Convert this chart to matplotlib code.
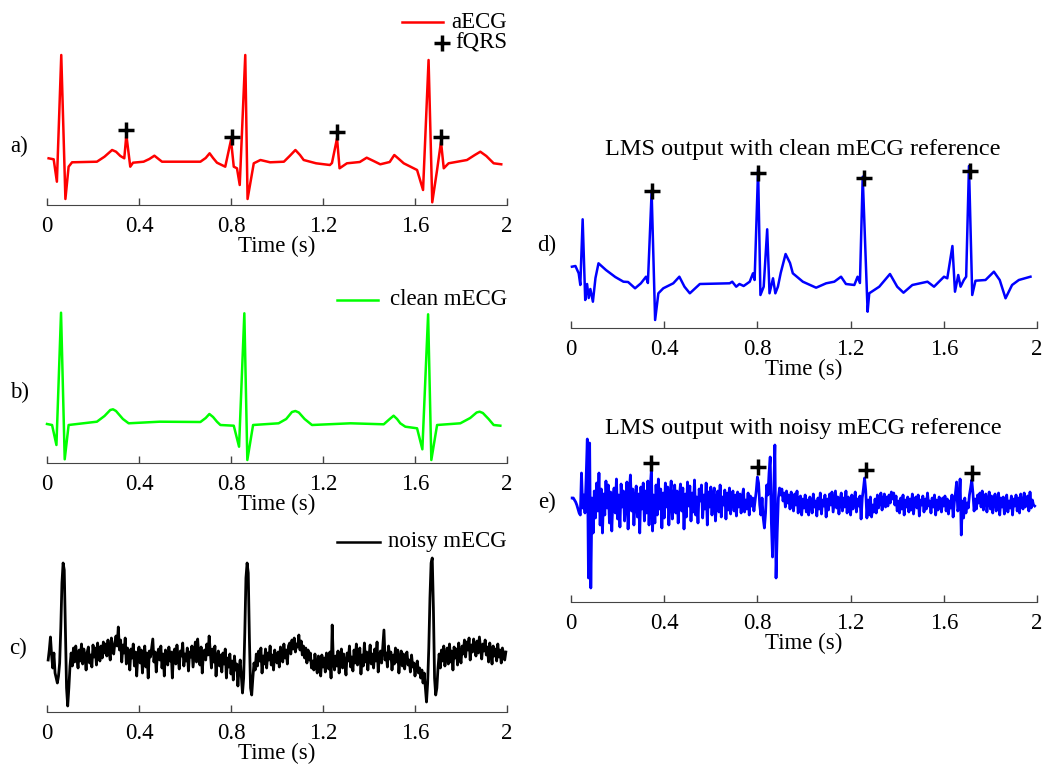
import numpy as np
import matplotlib.pyplot as plt
from matplotlib.lines import Line2D

plt.rcParams['font.family'] = ['Liberation Serif', 'DejaVu Serif']

# ---------------- data ----------------
# a) abdominal ECG (time s, amplitude a.u.)
aecg_t = [0.007, 0.029, 0.043, 0.062, 0.080, 0.094, 0.109, 0.217, 0.25, 0.283,
          0.30, 0.319, 0.336, 0.345, 0.362, 0.374, 0.42, 0.445, 0.467, 0.485,
          0.50, 0.667, 0.69, 0.707, 0.722, 0.739, 0.775, 0.80, 0.812, 0.826,
          0.838, 0.862, 0.872, 0.899, 0.928, 0.97, 1.03, 1.055, 1.08, 1.10,
          1.116, 1.17, 1.23, 1.239, 1.261, 1.272, 1.304, 1.36, 1.39, 1.42,
          1.449, 1.49, 1.51, 1.53, 1.551, 1.609, 1.635, 1.659, 1.675, 1.696,
          1.713, 1.725, 1.746, 1.826, 1.86, 1.884, 1.91, 1.942, 1.975]
aecg_v = [0.037, 0.027, -0.197, 1.07, -0.37, -0.047, -0.003, 0.003, 0.053, 0.12,
          0.103, 0.06, 0.037, 0.27, -0.047, -0.007, 0.003, 0.03, 0.063, 0.03,
          0.003, 0.003, 0.04, 0.087, 0.04, -0.007, -0.047, 0.22, -0.047, -0.063,
          -0.23, 1.07, -0.37, -0.013, 0.02, -0.003, 0.003, 0.06, 0.12, 0.07,
          0.02, -0.013, -0.03, -0.01, 0.237, -0.063, -0.013, 0.0, 0.043, 0.01,
          -0.023, 0.0, 0.07, 0.03, -0.013, -0.08, -0.28, 1.02, -0.403, -0.08,
          0.203, -0.063, -0.013, 0.02, 0.07, 0.103, 0.06, -0.013, -0.023]
fqrs_a_t = [0.343, 0.804, 1.261, 1.713]
fqrs_a_v = [0.32, 0.253, 0.297, 0.253]

# b) clean maternal ECG
mecg_t = [0.0, 0.022, 0.041, 0.061, 0.077, 0.094, 0.217, 0.25, 0.275, 0.287,
          0.30, 0.33, 0.355, 0.49, 0.667, 0.69, 0.706, 0.722, 0.739, 0.754,
          0.812, 0.835, 0.858, 0.871, 0.896, 1.007, 1.04, 1.065, 1.08, 1.095,
          1.12, 1.152, 1.32, 1.464, 1.49, 1.507, 1.522, 1.536, 1.558, 1.609,
          1.632, 1.657, 1.671, 1.696, 1.797, 1.84, 1.868, 1.881, 1.895, 1.92,
          1.942, 1.971]
mecg_v = [0.0, -0.01, -0.21, 1.113, -0.353, -0.01, 0.023, 0.08, 0.14, 0.147,
          0.13, 0.05, 0.007, 0.023, 0.02, 0.06, 0.10, 0.07, 0.023, -0.01,
          -0.017, -0.227, 1.107, -0.36, -0.01, 0.007, 0.05, 0.12, 0.13, 0.115,
          0.05, -0.01, 0.007, -0.003, 0.05, 0.083, 0.05, 0.007, -0.027, -0.043,
          -0.253, 1.097, -0.36, -0.01, 0.007, 0.06, 0.115, 0.123, 0.11, 0.05,
          -0.01, -0.017]

# c) noisy maternal ECG, sampled at 200 Hz, values in 0.01 a.u.
fs = 200
noisy_mecg = [
    -2, 8, 21, 3, -10, 5, -15, -20, -25, -18,
    -5, 30, 75, 95, 88, 30, -30, -48, -30, -8,
    5, -8, 10, -4, 12, 0, -10, 8, -3, 14,
    -6, 9, 2, -12, 6, 11, -5, 3, -9, 13,
    1, 10, -7, 15, 4, -3, 12, 0, 16, 5,
    14, 2, 18, 6, -2, 20, 9, 4, 15, 22,
    12, 31, 8, 18, -4, 13, 5, 20, -6, 10,
    3, -12, 9, 0, 14, -8, 6, -18, 4, 11,
    -5, 8, -15, 2, 12, -9, 5, -20, 7, 1,
    10, 19, -4, 6, -14, 3, 9, -2, 12, -10,
    4, -18, 8, 1, -7, 11, -3, 6, -20, 5,
    9, -6, 13, 0, -11, 7, 2, 15, -8, 4,
    -3, 10, -13, 6, 1, 12, -9, 3, 16, -4,
    19, 2, -7, 11, -15, 5, 8, -2, 14, 3,
    22, 6, -10, 9, -4, 12, -18, 1, 7, -8,
    3, -14, 5, -6, 9, -20, 0, -9, 4, -16,
    -3, -22, 2, -12, -6, -28, -10, -2, -18, -35,
    -20, 25, 80, 95, 85, 20, -30, -37, -20, -5,
    -12, 4, -8, 7, -3, 10, -15, 2, -6, 9,
    -10, 5, -2, 12, -7, 3, -12, 8, 0, -5,
    6, -9, 11, 2, -4, 14, 0, 8, -6, 12,
    15, 4, 18, 9, 20, 6, 14, 11, 23, 8,
    17, 3, 12, 0, 10, -5, 8, -2, 5, -10,
    -3, -12, 4, -8, -15, 2, -6, -18, 3, -9,
    0, -14, 5, -5, -11, 6, -20, 33, -4, -12,
    2, -8, 7, -15, -1, 9, -10, 4, -6, -17,
    5, -3, 12, -9, 1, -13, 8, -5, 14, -7,
    -2, 10, -16, 3, -8, 15, -4, 6, -12, 2,
    13, -6, 4, -10, 9, -3, 16, -14, 1, 7,
    -5, 11, 28, -2, 5, -9, 12, -1, 6, -12,
    3, -6, 10, -4, 8, -15, 0, 7, -8, 4,
    -11, 2, 6, -7, -2, -14, 3, -9, -5, -18,
    -8, -3, -15, -10, -20, -12, -25, -15, -30, -44,
    -25, 10, 60, 95, 100, 50, -20, -37, -30, -10,
    4, -10, 8, -3, 12, -8, 2, 10, -6, 14,
    -4, 7, -12, 11, 0, 9, -7, 15, 3, -5,
    12, 4, 18, 1, 16, 8, 20, -2, 13, 6,
    19, 9, 2, 17, 5, 21, 10, -1, 14, 7,
    18, 3, 11, -4, 15, 6, -6, 12, 2, 9,
    -3, 14, 1, 8, -5, 10, 4, -2, 6]

# d) LMS output, clean reference
lms_clean_t = [0.004, 0.019, 0.033, 0.040, 0.050, 0.061, 0.069, 0.076, 0.083, 0.094,
               0.105, 0.118, 0.15, 0.19, 0.225, 0.245, 0.275, 0.30, 0.322, 0.33,
               0.346, 0.361, 0.375, 0.396, 0.439, 0.465, 0.487, 0.51, 0.553, 0.681,
               0.692, 0.709, 0.723, 0.741, 0.767, 0.781, 0.788, 0.803, 0.813, 0.827,
               0.842, 0.852, 0.867, 0.877, 0.888, 0.90, 0.921, 0.94, 0.952, 0.995,
               1.052, 1.095, 1.13, 1.159, 1.18, 1.216, 1.23, 1.24, 1.252, 1.273,
               1.28, 1.323, 1.369, 1.40, 1.427, 1.465, 1.53, 1.558, 1.601, 1.615,
               1.637, 1.648, 1.662, 1.672, 1.686, 1.696, 1.708, 1.722, 1.736, 1.779,
               1.815, 1.84, 1.865, 1.893, 1.922, 1.972]
lms_clean_v = [0.163, 0.17, 0.097, -0.02, 0.637, -0.17, -0.01, -0.15, -0.06, -0.187,
               0.05, 0.197, 0.13, 0.06, 0.013, 0.01, -0.053, -0.003, 0.063, 0.0,
               0.913, -0.37, -0.103, -0.053, -0.003, 0.063, -0.037, -0.103, -0.01, -0.003,
               0.013, -0.037, -0.01, -0.03, 0.013, 0.097, 0.03, 1.137, -0.12, -0.037,
               0.537, -0.103, 0.047, -0.103, -0.037, 0.1, 0.29, 0.2, 0.097, 0.013,
               -0.047, -0.003, 0.013, 0.063, -0.01, -0.02, 0.063, 0.0, 1.063, -0.287,
               -0.103, -0.037, 0.09, -0.037, -0.097, -0.02, 0.013, -0.037, 0.063, 0.047,
               0.37, -0.087, 0.08, -0.037, 0.03, 0.063, 1.17, -0.12, 0.023, 0.03,
               0.113, 0.03, -0.153, -0.02, 0.03, 0.063]
fqrs_d_t = [0.346, 0.803, 1.256, 1.711]
fqrs_d_v = [0.923, 1.097, 1.053, 1.12]

# e) LMS output, noisy reference, 200 Hz, values in 0.01 a.u.
lms_noisy = [
    5, 5, 3, 1, -2, -6, -10, -12, 30, -5,
    8, -10, 25, 64, -75, 60, -85, 5, -30, 12,
    -15, 20, -8, 30, -22, 14, -30, 9, -12, 22,
    -5, 18, -20, 11, -28, 6, 15, -10, 24, -16,
    8, -24, 19, -4, 12, -18, 3, 21, -26, 10,
    28, -8, 14, -22, 5, 17, -14, 9, -30, 16,
    -6, 20, -18, 12, -10, 22, -22, 15, 33, -28,
    8, -20, 18, -12, 24, -6, 14, -25, 10, -15,
    20, -4, 16, -22, 7, 22, -16, 3, 18, -10,
    12, -20, 6, 19, -8, 15, -26, 9, -14, 21,
    -3, 17, -18, 10, -9, 23, -12, 6, -20, 14,
    2, 18, -15, 8, -6, 20, -22, 11, -4, 16,
    -12, 9, 15, -18, 4, 12, -9, 18, -14, 6,
    -2, 13, -16, 10, -7, 15, -11, 5, 12, -8,
    8, -13, 11, -4, 9, -10, 6, 14, -9, 3,
    -6, 10, -12, 7, -3, 5, -8, 2, 12, 26,
    20, -2, -12, 5, -15, -25, -10, 18, 8, 30,
    46, -20, -54, 10, 58, -75, -30, 5, 15, 8,
    14, 2, 10, -4, 12, 0, 8, -6, 11, 3,
    -8, 9, -2, 12, -10, 5, 7, -12, 4, -5,
    8, -9, 3, -12, 6, 1, -10, 9, -4, 2,
    -13, 5, -6, 10, -11, 3, -3, 8, -14, 4,
    -7, 9, -2, 11, -9, 2, 12, -5, 6, -11,
    3, 10, -8, 5, -4, 12, -10, 6, 0, -12,
    8, -6, 3, 11, -9, 4, -3, 7, -16, 5,
    14, 25, 12, -15, 3, -12, 6, -14, -2, -9,
    4, -10, 8, -5, 2, 10, -7, 3, 9, -4,
    6, -3, 8, 0, 11, 4, 10, -2, 7, -8,
    2, -10, 5, -6, 8, -12, 3, -4, 6, -9,
    4, -7, 9, -11, 1, 6, -5, 8, -13, 3,
    -2, 7, -9, 4, -6, 10, -3, 2, -10, 5,
    -4, 8, -12, 3, -7, 6, 0, -9, 5, -3,
    7, -8, 4, -11, 2, -5, 8, -14, 0, 10,
    21, -8, -4, 24, -32, 2, -15, 5, -10, 0,
    -5, 8, 15, 23, 10, -8, 4, -6, 8, 0,
    10, -4, 12, -7, 5, 9, -9, 3, 11, -6,
    7, -10, 4, 9, -8, 2, 10, -12, 5, -4,
    6, -11, 3, 8, -9, 2, -5, 7, -12, 4,
    -3, 8, -8, 5, -10, 9, 0, -6, 10, -4,
    5, 7, -8, 11, -5, 3, -2, -3]
fqrs_e_t = [0.343, 0.804, 1.264, 1.723]
fqrs_e_v = [40, 36, 33, 30]

xticks = [0, 0.4, 0.8, 1.2, 1.6, 2]
xtick_labels = ['0', '0.4', '0.8', '1.2', '1.6', '2']

# ---------------- figure ----------------
W, H = 1044, 767
fig = plt.figure(figsize=(W / 100, H / 100), dpi=100)
FS = 16.5


def px_axes(left, right, top, bottom):
    return fig.add_axes([left / W, 1 - bottom / H, (right - left) / W, (bottom - top) / H])


def style(ax, ylim):
    ax.set_xlim(0, 2)
    ax.set_ylim(*ylim)
    for s in ['top', 'right', 'left']:
        ax.spines[s].set_visible(False)
    ax.spines['bottom'].set_color('#444444')
    ax.set_yticks([])
    ax.set_xticks(xticks)
    ax.set_xticklabels(xtick_labels)
    ax.tick_params(axis='x', direction='in', length=5, width=1, pad=8,
                   labelsize=FS, color='#444444')
    ax.set_xlabel('Time (s)', fontsize=FS, labelpad=-1)
    ax.patch.set_visible(False)


def ftext(x, y, s, size=FS, **kw):
    fig.text(x / W, 1 - y / H, s, fontsize=size, va='center', **kw)


def legend_line(x0, x1, y, color):
    fig.add_artist(Line2D([x0 / W, x1 / W], [1 - y / H, 1 - y / H], color=color, lw=1.8))


plus = dict(marker='+', color='black', ls='none', ms=11, mew=2.5, clip_on=False, zorder=5)

# a) aECG
ax_a = px_axes(47, 507, 35, 205)
ax_a.plot(aecg_t, aecg_v, color='#ff0000', lw=1.8, clip_on=False)
ax_a.plot(fqrs_a_t, fqrs_a_v, **plus)
style(ax_a, (-0.43, 1.27))
legend_line(402, 443, 22, '#ff0000')
ftext(507, 22, 'aECG', ha='right')
fig.add_artist(Line2D([442 / W], [1 - 43 / H], marker='+', color='black', ms=11, mew=2.5))
ftext(507, 43, 'fQRS', ha='right')
ftext(19, 146, 'a)', ha='center')

# b) clean mECG
ax_b = px_axes(47, 507, 293, 463)
ax_b.plot(mecg_t, mecg_v, color='#00ff00', lw=1.8, clip_on=False)
style(ax_b, (-0.39, 1.31))
legend_line(337, 378, 300, '#00ff00')
ftext(507, 300, 'clean mECG', ha='right')
ftext(20, 392, 'b)', ha='center')

# c) noisy mECG
t_c = np.arange(1, len(noisy_mecg) + 1) / fs
ax_c = px_axes(47, 507, 540, 712)
ax_c.plot(t_c, noisy_mecg, color='black', lw=2.0, clip_on=False)
style(ax_c, (-54, 118))
legend_line(337, 380, 542, 'black')
ftext(507, 542, 'noisy mECG', ha='right')
ftext(18, 648, 'c)', ha='center')

# d) LMS output with clean reference
ax_d = px_axes(571, 1037, 165, 328)
ax_d.plot(lms_clean_t, lms_clean_v, color='#0000ff', lw=1.8, clip_on=False)
ax_d.plot(fqrs_d_t, fqrs_d_v, **plus)
style(ax_d, (-0.45, 1.18))
ftext(803, 150, 'LMS output with clean mECG reference', size=17.5, ha='center')
ftext(547, 245, 'd)', ha='center')

# e) LMS output with noisy reference
t_e = np.arange(1, len(lms_noisy) + 1) / fs
ax_e = px_axes(571, 1037, 430, 602)
ax_e.plot(t_e, lms_noisy, color='#0000ff', lw=2.0, clip_on=False)
ax_e.plot(fqrs_e_t, fqrs_e_v, **plus)
style(ax_e, (-99, 73))
ftext(803, 429, 'LMS output with noisy mECG reference', size=17.5, ha='center')
ftext(547, 502, 'e)', ha='center')

plt.savefig('out.png', dpi=100)
